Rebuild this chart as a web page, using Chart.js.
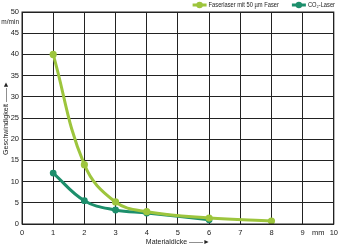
<!DOCTYPE html>
<html>
<head>
<meta charset="utf-8">
<script src="https://cdn.jsdelivr.net/npm/chart.js@4"></script>
<style>
  html, body { margin: 0; padding: 0; background: #fff; }
  #wrap { width: 342px; height: 247px; }
</style>
</head>
<body>
<div id="wrap"><canvas id="chart"></canvas></div>
<script>
// data
const faserX = [1, 2, 3, 4, 6, 8];
const faserY = [40, 14, 5.2, 2.9, 1.4, 0.7];
const co2X = [1, 2, 3, 4, 6];
const co2Y = [12, 5.5, 3.3, 2.6, 1.0];
const seriesNames = ['Faserlaser mit 50 µm Faser', 'CO₂-Laser'];
const xTicks = [0, 1, 2, 3, 4, 5, 6, 7, 8, 9, 9.5, 10];
const yTicks = [0, 5, 10, 15, 20, 25, 30, 35, 40, 45, 47.5, 50];
const xUnit = 'mm', yUnit = 'm/min';

const LIGHT = '#9dc53d', DARK = '#1d8f6c';
const FONT = '"Liberation Sans", sans-serif';

const toPts = (xs, ys) => xs.map((x, i) => ({ x: x, y: ys[i] }));

// legend drawn by hand in the top strip, text squeezed a bit
const legendPlugin = {
  id: 'topLegend',
  afterDraw(chart) {
    const g = chart.ctx;
    const sq = 0.82;
    g.save();
    g.font = '7px ' + FONT;
    g.textBaseline = 'middle';
    let x = chart.width - 7;
    const y = 5;
    for (let i = chart.data.datasets.length - 1; i >= 0; i--) {
      const d = chart.data.datasets[i];
      const w = g.measureText(d.label).width * sq;
      x -= w;
      g.save();
      g.translate(x, y); g.scale(sq, 1);
      g.fillStyle = '#222';
      g.fillText(d.label, 0, 0);
      g.restore();
      x -= 16;
      g.strokeStyle = d.borderColor; g.lineWidth = 3;
      g.beginPath(); g.moveTo(x, y); g.lineTo(x + 14, y); g.stroke();
      g.fillStyle = d.borderColor;
      g.beginPath(); g.arc(x + 7, y, 3.2, 0, Math.PI * 2); g.fill();
      x -= 13;
    }
    g.restore();
  }
};

const framePlugin = {
  id: 'frame',
  afterDraw(chart) {
    const a = chart.chartArea, g = chart.ctx;
    g.save(); g.strokeStyle = '#222'; g.lineWidth = 1;
    g.strokeRect(a.left, a.top, a.right - a.left, a.bottom - a.top);
    g.restore();
  }
};

new Chart(document.getElementById('chart'), {
  type: 'line',
  data: {
    datasets: [
      { label: seriesNames[0], data: toPts(faserX, faserY), borderColor: LIGHT, backgroundColor: LIGHT,
        borderWidth: 3, pointRadius: 3.6, pointBorderWidth: 0, tension: 0.4 },
      { label: seriesNames[1], data: toPts(co2X, co2Y), borderColor: DARK, backgroundColor: DARK,
        borderWidth: 3, pointRadius: 3.4, pointBorderWidth: 0, tension: 0.4 }
    ]
  },
  options: {
    responsive: true,
    maintainAspectRatio: false,
    animation: false,
    layout: { padding: { left: 0, right: 3, top: 12, bottom: 0 } },
    plugins: {
      tooltip: { enabled: false },
      legend: { display: false }
    },
    scales: {
      x: {
        type: 'linear', min: 0, max: 10,
        afterBuildTicks: (ax) => { ax.ticks = xTicks.map(v => ({ value: v })); },
        afterFit: (ax) => { ax.height = 23; },
        grid: { color: (c) => c.tick && c.tick.value === 9.5 ? 'rgba(0,0,0,0)' : '#222', lineWidth: 1, drawTicks: false },
        border: { color: '#222', width: 1 },
        ticks: {
          font: { family: FONT, size: 7.5 }, color: '#222', padding: 4, maxRotation: 0, autoSkip: false,
          callback: (v) => v === 9.5 ? xUnit : String(v)
        },
        title: { display: true, text: 'Materialdicke ——►', font: { family: FONT, size: 7 }, color: '#222', padding: { top: 1, bottom: 1 } }
      },
      y: {
        type: 'linear', min: 0, max: 50,
        afterBuildTicks: (ax) => { ax.ticks = yTicks.map(v => ({ value: v })); },
        afterFit: (ax) => { ax.width = 22; },
        grid: { color: (c) => c.tick && c.tick.value === 47.5 ? 'rgba(0,0,0,0)' : '#222', lineWidth: 1, drawTicks: false },
        border: { color: '#222', width: 1 },
        ticks: {
          font: (c) => ({ family: FONT, size: c.tick && c.tick.value === 47.5 ? 6.5 : 7.5 }),
          color: '#222', padding: 3, autoSkip: false,
          callback: (v) => v === 47.5 ? yUnit : String(v)
        },
        title: { display: true, text: 'Geschwindigkeit ——►', font: { family: FONT, size: 7 }, color: '#222', padding: { top: 2, bottom: 0 } }
      }
    }
  },
  plugins: [framePlugin, legendPlugin]
});
</script>
</body>
</html>
